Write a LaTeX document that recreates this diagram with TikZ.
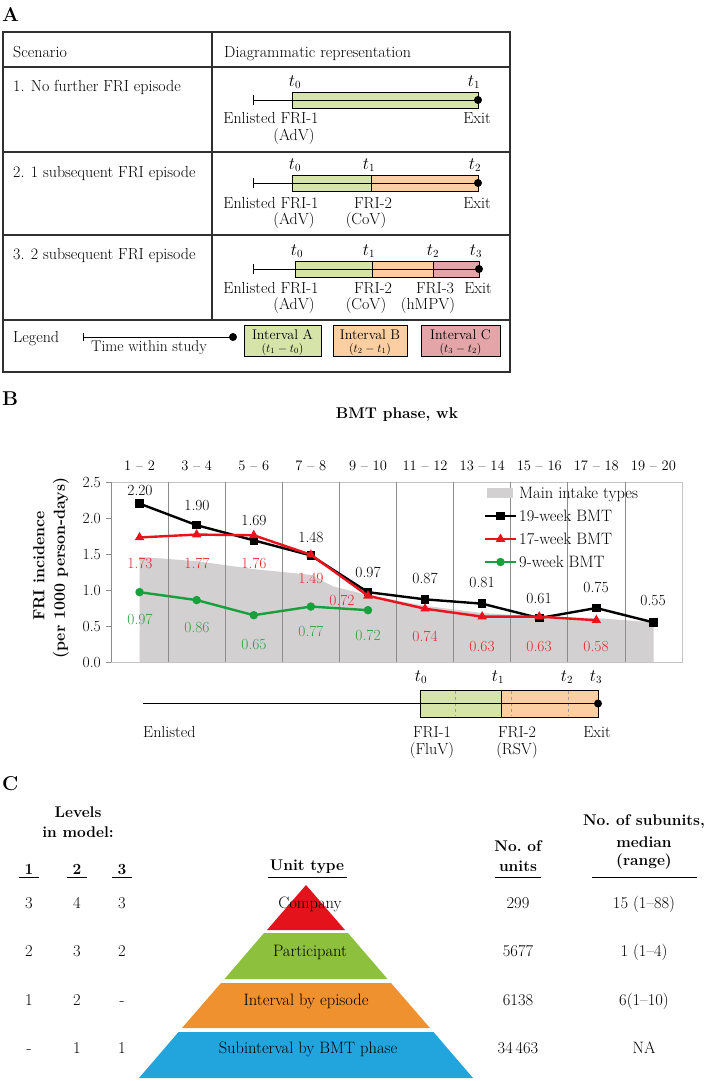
\documentclass[tikz,border=0pt]{standalone}
\usetikzlibrary{shapes.geometric}
\definecolor{gA}{HTML}{D6E4AA}
\definecolor{oA}{HTML}{FBCFA1}
\definecolor{pA}{HTML}{E3A5A8}
\definecolor{areaG}{HTML}{D2D0D0}
\definecolor{gridG}{HTML}{8C8C8C}
\definecolor{frameG}{HTML}{C4C4C4}
\definecolor{lnRed}{HTML}{E8131B}
\definecolor{lnGreen}{HTML}{18A03C}
\definecolor{txRed}{HTML}{E42A2F}
\definecolor{txGreen}{HTML}{2EA043}
\definecolor{pyrRed}{HTML}{E3121B}
\definecolor{pyrGreen}{HTML}{8DC03C}
\definecolor{pyrOrange}{HTML}{F0912F}
\definecolor{pyrBlue}{HTML}{22A5DD}
\definecolor{tblLine}{HTML}{303030}
\definecolor{dashG}{HTML}{9A9AA8}
\tikzset{
 tx/.style={inner sep=0pt, font=\fontsize{16}{19}\selectfont},
 txc/.style={inner sep=0pt, font=\fontsize{16.5}{19}\selectfont},
 txv/.style={inner sep=0pt, font=\fontsize{15.5}{18}\selectfont},
 txl/.style={inner sep=0pt, font=\fontsize{16.5}{19}\selectfont},
 txs/.style={inner sep=0pt, font=\fontsize{14.5}{16}\selectfont},
 txi/.style={inner sep=0pt, font=\fontsize{14}{16}\selectfont},
 txxs/.style={inner sep=0pt, font=\fontsize{11.5}{13}\selectfont},
 bf/.style={inner sep=0pt, font=\fontsize{15.5}{18}\selectfont\bfseries},
 panel/.style={inner sep=0pt, font=\fontsize{20}{22}\selectfont\bfseries},
 tbl/.style={draw=tblLine, line width=1.1pt},
 tlin/.style={line width=1pt, draw=black},
 barbox/.style={draw=black, line width=0.9pt},
 enddot/.style={circle, fill=black, minimum size=8pt, inner sep=0pt},
 sqm/.style={rectangle, fill=black, minimum size=8.5pt, inner sep=0pt},
 trim/.style={regular polygon, regular polygon sides=3, fill=lnRed, minimum size=11pt, inner sep=0pt},
 cirm/.style={circle, fill=lnGreen, minimum size=8.5pt, inner sep=0pt},
 serB/.style={line width=2.4pt, draw=black},
 serR/.style={line width=2.4pt, draw=lnRed},
 serG/.style={line width=2.4pt, draw=lnGreen},
 lbox/.style={draw=black, line width=0.9pt},
}
\begin{document}
\begin{tikzpicture}[x=1pt,y=-1pt]
\useasboundingbox (0,0) rectangle (705,1081);
\fill[white] (0,0) rectangle (705,1081);

%% ================= PANEL A =================
\node[panel, anchor=west] (pA) at (2,15) {A};
\draw[tbl] (3,32) rectangle (510,372);
\draw[tbl] (3,67) -- (510,67);
\draw[tbl] (3,152) -- (510,152);
\draw[tbl] (3,235) -- (510,235);
\draw[tbl] (3,320) -- (510,320);
\draw[tbl] (212,32) -- (212,320);
\node[tx, anchor=base west] (hsc) at (13,57) {Scenario};
\node[tx, anchor=base west] (hdr) at (224,57) {Diagrammatic representation};
\node[tx, anchor=base west] (sc1) at (13,92) {1. No further FRI episode};
\node[tx, anchor=base west] (sc2) at (13,177) {2. 1 subsequent FRI episode};
\node[tx, anchor=base west] (sc3) at (13,259) {3. 2 subsequent FRI episode};

% Row 1
\coordinate (s1) at (253,100); \coordinate (e1) at (478,100);
\draw[barbox, fill=gA] (292,92) rectangle (478,108);
\draw[tlin] (s1) -- (e1);
\draw[tlin] ([yshift=5pt]s1) -- ([yshift=-5pt]s1);
\node[enddot] (d1) at (e1) {};
\node[tx] (t10) at (295,82) {$t_0$};
\node[tx] (t11) at (474,82) {$t_1$};
\node[tx, anchor=base] (en1) at (271,123) {Enlisted FRI-1};
\node[tx, anchor=base] (ad1) at (294,140) {(AdV)};
\node[tx, anchor=base] (ex1) at (477,123) {Exit};

% Row 2
\coordinate (s2) at (253,183); \coordinate (e2) at (478,183);
\draw[barbox, fill=gA] (292,175) rectangle (371,191);
\draw[barbox, fill=oA] (371,175) rectangle (478,191);
\draw[tlin] (s2) -- (e2);
\draw[tlin] ([yshift=5pt]s2) -- ([yshift=-5pt]s2);
\node[enddot] (d2) at (e2) {};
\node[tx] (t20) at (295,165) {$t_0$};
\node[tx] (t21) at (369,165) {$t_1$};
\node[tx] (t22) at (475,165) {$t_2$};
\node[tx, anchor=base] (en2) at (271,208) {Enlisted FRI-1};
\node[tx, anchor=base] (fr22) at (373,208) {FRI-2};
\node[tx, anchor=base] (ex2) at (477,208) {Exit};
\node[tx, anchor=base] (ad2) at (294,224) {(AdV)};
\node[tx, anchor=base] (cv2) at (366,224) {(CoV)};

% Row 3
\coordinate (s3) at (253,269); \coordinate (e3) at (479,269);
\draw[barbox, fill=gA] (295,261) rectangle (372,277);
\draw[barbox, fill=oA] (372,261) rectangle (433,277);
\draw[barbox, fill=pA] (433,261) rectangle (479,277);
\draw[tlin] (s3) -- (e3);
\draw[tlin] ([yshift=5pt]s3) -- ([yshift=-5pt]s3);
\node[enddot] (d3) at (e3) {};
\node[tx] (t30) at (297,251) {$t_0$};
\node[tx] (t31) at (369,251) {$t_1$};
\node[tx] (t32) at (433,251) {$t_2$};
\node[tx] (t33) at (476,251) {$t_3$};
\node[tx, anchor=base] (en3) at (271,293) {Enlisted FRI-1};
\node[tx, anchor=base] (fr32) at (373,293) {FRI-2};
\node[tx, anchor=base] (fr33) at (435,293) {FRI-3};
\node[tx, anchor=base] (ex3) at (478,293) {Exit};
\node[tx, anchor=base] (ad3) at (294,309) {(AdV)};
\node[tx, anchor=base] (cv3) at (366,309) {(CoV)};
\node[tx, anchor=base] (hm3) at (428,309) {(hMPV)};

% Legend row
\node[tx, anchor=base west] (lgd) at (13,342) {Legend};
\coordinate (ls) at (83,337); \coordinate (le) at (233,337);
\draw[tlin] (ls) -- (le);
\draw[tlin] ([yshift=4pt]ls) -- ([yshift=-4pt]ls);
\node[enddot] (ld) at (le) {};
\node[txc, font=\fontsize{15.5}{18}\selectfont, anchor=base west] (tws) at (91,351) {Time within study};
\draw[lbox, fill=gA] (244,325) rectangle (321,356);
\draw[lbox, fill=oA] (333,325) rectangle (407,356);
\draw[lbox, fill=pA] (421,325) rectangle (500,356);
\node[txi, anchor=base] (iA) at (282.5,339) {Interval A};
\node[txxs, anchor=base] (fA) at (282.5,352) {$(t_1-t_0)$};
\node[txi, anchor=base] (iB) at (370,339) {Interval B};
\node[txxs, anchor=base] (fB) at (370,352) {$(t_2-t_1)$};
\node[txi, anchor=base] (iC) at (460.5,339) {Interval C};
\node[txxs, anchor=base] (fC) at (460.5,352) {$(t_3-t_2)$};

%% ================= PANEL B =================
\node[panel, anchor=west] (pB) at (2,399) {B};
\node[bf] (bmt) at (397,415) {BMT phase, wk};
\foreach \lab [count=\i] in {1,3,5,7,9,11,13,15,17,19}{
  \pgfmathtruncatemacro{\hi}{\lab+1}
  \node[txs] (cat\i) at ({111+57.1*(\i-0.5)},466) {\lab\ \textendash\ \hi};
}
% gray area
\fill[areaG] (139.6,662) -- (139.6,{662-72*1.46}) -- (196.7,{662-72*1.40}) -- (253.8,{662-72*1.29})
  -- (310.9,{662-72*1.21}) -- (333,{662-72*1.05}) -- (368,{662-72*0.93}) -- (425.1,{662-72*0.78})
  -- (482.2,{662-72*0.68}) -- (539.3,{662-72*0.63}) -- (596.4,{662-72*0.61}) -- (653.5,{662-72*0.55})
  -- (653.5,662) -- cycle;
% frame and grid
\draw[frameG, line width=0.8pt] (111,482) rectangle (682,662);
\foreach \k in {1,...,9} \draw[gridG, line width=0.7pt] ({111+57.1*\k},482) -- ({111+57.1*\k},662);
\draw[gridG, line width=0.8pt] (111,482) -- (111,662);
\foreach \v [count=\j] in {0.0,0.5,1.0,1.5,2.0,2.5}{
  \draw[gridG, line width=0.7pt] (106,{662-72*\v}) -- (111,{662-72*\v});
  \node[txv, anchor=east] (yl\j) at (101,{662-72*\v}) {\v};
}
\node[bf, font=\fontsize{16}{18}\selectfont\bfseries, rotate=90] (yt1) at (39,566) {FRI incidence};
\node[bf, font=\fontsize{16}{18}\selectfont\bfseries, rotate=90] (yt2) at (61,568) {(per 1000 person-days)};

% series coordinates
\foreach \v [count=\i] in {2.20,1.90,1.69,1.48,0.97,0.87,0.81,0.61,0.75,0.55}
  \coordinate (b\i) at ({111+57.1*(\i-0.5)},{662-72*\v});
\foreach \v [count=\i] in {1.73,1.77,1.76,1.49,0.92,0.74,0.63,0.63,0.58}
  \coordinate (r\i) at ({111+57.1*(\i-0.5)},{662-72*\v});
\foreach \v [count=\i] in {0.97,0.86,0.65,0.77,0.72}
  \coordinate (g\i) at ({111+57.1*(\i-0.5)},{662-72*\v});

\draw[serG] (g1) -- (g2) -- (g3) -- (g4) -- (g5);
\foreach \i in {1,...,5} \node[cirm] (gm\i) at (g\i) {};
\draw[serB] (b1) -- (b2) -- (b3) -- (b4) -- (b5) -- (b6) -- (b7) -- (b8) -- (b9) -- (b10);
\foreach \i in {1,...,10} \node[sqm] (bm\i) at (b\i) {};
\draw[serR] (r1) -- (r2) -- (r3) -- (r4) -- (r5) -- (r6) -- (r7) -- (r8) -- (r9);
\foreach \i in {1,...,9} \node[trim] (rm\i) at (r\i) {};

% value labels
\foreach \x/\y/\l [count=\i] in {140/490/2.20,197/505/1.90,254/520/1.69,311/537/1.48,368/572/0.97,425/578/0.87,482/582/0.81,539/598/0.61,596/587/0.75,653/600/0.55}
  \node[txv] (bl\i) at (\x,\y) {\l};
\foreach \x/\y/\l [count=\i] in {140/563/1.73,197/563/1.77,254/563/1.76,311/578/1.49,342/600/0.72,425/636/0.74,482/646/0.63,539/646/0.63,596/646/0.58}
  \node[txv, text=txRed] (rl\i) at (\x,\y) {\l};
\foreach \x/\y/\l [count=\i] in {140/619/0.97,197/627/0.86,254/644/0.65,311/631/0.77,368/635/0.72}
  \node[txv, text=txGreen] (gl\i) at (\x,\y) {\l};

% legend
\fill[areaG] (487,488) rectangle (513,498);
\node[txl, anchor=west] (lg0) at (519,494) {Main intake types};
\coordinate (lb1) at (485,516); \coordinate (lb2) at (516,516);
\draw[serB] (lb1) -- (lb2); \node[sqm] (lbm) at (500.5,516) {};
\node[txl, anchor=west] (lg1) at (519,516) {19-week BMT};
\coordinate (lr1) at (485,539); \coordinate (lr2) at (516,539);
\draw[serR] (lr1) -- (lr2); \node[trim] (lrm) at (500.5,539) {};
\node[txl, anchor=west] (lg2) at (519,539) {17-week BMT};
\coordinate (lgr1) at (485,562); \coordinate (lgr2) at (516,562);
\draw[serG] (lgr1) -- (lgr2); \node[cirm] (lgm) at (500.5,562) {};
\node[txl, anchor=west] (lg3) at (519,562) {9-week BMT};

% timeline below chart
\coordinate (bs) at (143,703.5); \coordinate (be) at (598,703.5);
\draw[barbox, fill=gA] (420,690) rectangle (501,717);
\draw[barbox, fill=oA] (501,690) rectangle (598,717);
\foreach \x in {455,511,568} \draw[dashG, dashed, line width=0.6pt] (\x,691) -- (\x,716);
\draw[tlin] (bs) -- (be);
\node[enddot] (bd) at (be) {};
\node[tx] (bt0) at (421,677) {$t_0$};
\node[tx] (bt1) at (498,677) {$t_1$};
\node[tx] (bt2) at (567,677) {$t_2$};
\node[tx] (bt3) at (596,677) {$t_3$};
\node[tx, anchor=base west] (ben) at (143,737) {Enlisted};
\node[tx, anchor=base] (bf1) at (432,737) {FRI-1};
\node[tx, anchor=base] (bf2) at (517,737) {FRI-2};
\node[tx, anchor=base] (bex) at (597,737) {Exit};
\node[tx, anchor=base] (bfl) at (432,754) {(FluV)};
\node[tx, anchor=base] (brs) at (517,754) {(RSV)};

%% ================= PANEL C =================
\node[panel, anchor=west] (pC) at (2,784) {C};
\node[bf] (lv1) at (78,812) {Levels};
\node[bf] (lv2) at (78,832) {in model:};
\node[bf] (c1) at (29,869) {1};
\node[bf] (c2) at (77,869) {2};
\node[bf] (c3) at (122,869) {3};
\draw[line width=1pt] (19,877) -- (39,877);
\draw[line width=1pt] (67,877) -- (87,877);
\draw[line width=1pt] (112,877) -- (132,877);
\node[bf] (ut) at (307,867) {Unit type};
\draw[line width=1pt] (268,877) -- (347,877);
\node[bf] (nu1) at (518,846) {No.\ of};
\node[bf] (nu2) at (518,866) {units};
\draw[line width=1pt] (495,877) -- (541,877);
\node[bf] (ns1) at (644,822) {No.\ of subunits,};
\node[bf] (ns2) at (644,842) {median};
\node[bf] (ns3) at (644,862) {(range)};
\draw[line width=1pt] (592,877) -- (697,877);

% pyramid
\fill[pyrRed] (306,885) -- (345,930) -- (267,930) -- cycle;
\fill[pyrGreen] (264,933) -- (348,933) -- (387.5,979) -- (224.5,979) -- cycle;
\fill[pyrOrange] (221,983) -- (391,983) -- (430,1028) -- (182,1028) -- cycle;
\fill[pyrBlue] (178.5,1032) -- (433.5,1032) -- (473,1078) -- (139,1078) -- cycle;
\node[txc, anchor=mid] (u1) at (310,906) {Company};
\node[txc, anchor=mid] (u2) at (310,954) {Participant};
\node[txc, anchor=mid] (u3) at (306,1003) {Interval by episode};
\node[txc, anchor=mid] (u4) at (308,1051) {Subinterval by BMT phase};

% level numbers
\foreach \a/\b/\c/\y [count=\i] in {3/4/3/906, 2/3/2/954, 1/2/-/1003, -/1/1/1051}{
  \node[txc, anchor=mid] (la\i) at (29,\y) {\a};
  \node[txc, anchor=mid] (lb\i) at (77,\y) {\b};
  \node[txc, anchor=mid] (lc\i) at (122,\y) {\c};
}
\node[txc, anchor=mid] (n1) at (518,906) {299};
\node[txc, anchor=mid] (n2) at (518,954) {5677};
\node[txc, anchor=mid] (n3) at (518,1003) {6138};
\node[txc, anchor=mid] (n4) at (518,1051) {34\,463};
\node[txc, anchor=mid] (m1) at (644,906) {15 (1\textendash 88)};
\node[txc, anchor=mid] (m2) at (644,954) {1 (1\textendash 4)};
\node[txc, anchor=mid] (m3) at (644,1003) {6(1\textendash 10)};
\node[txc, anchor=mid] (m4) at (644,1051) {NA};
\end{tikzpicture}
\end{document}
